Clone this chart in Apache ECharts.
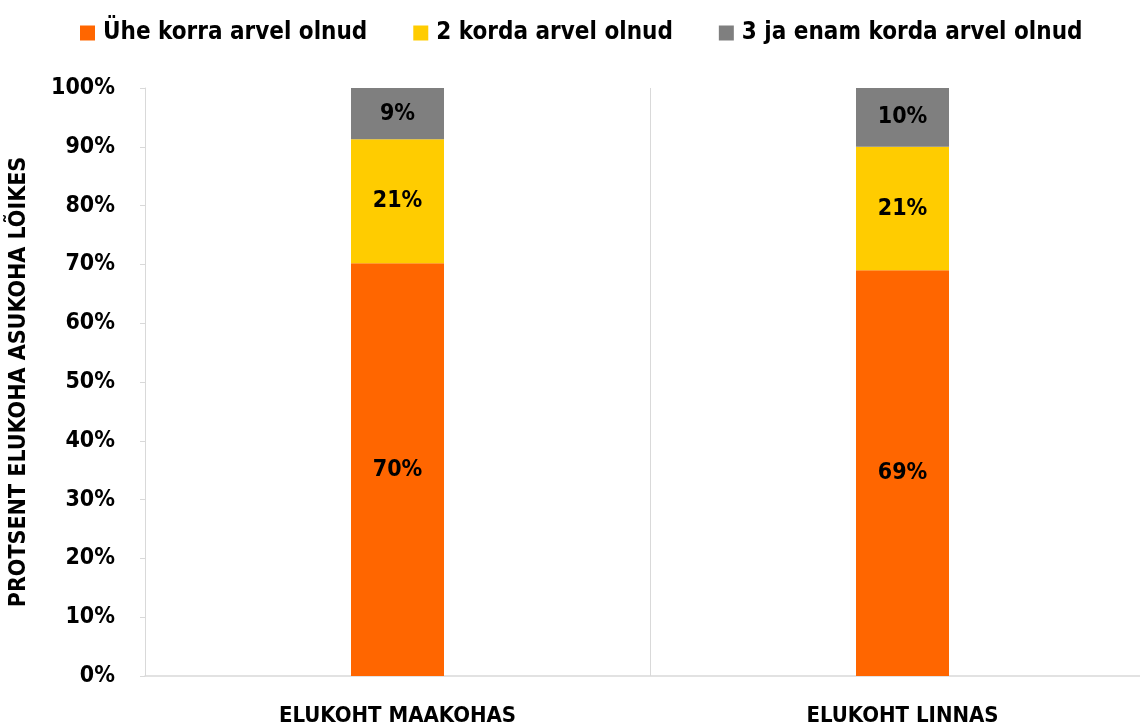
<!DOCTYPE html>
<html>
<head>
<meta charset="utf-8">
<script src="https://cdn.jsdelivr.net/npm/echarts@6/dist/echarts.min.js"></script>
<style>
html,body{margin:0;padding:0;background:#fff;overflow:hidden;}
/* the plot area runs a little past the right edge of the picture */
#chart{width:1155px;height:722px;}
</style>
</head>
<body>
<div id="chart"></div>
<script>
// kategooriad ja osakaalud (%)
const categories = ['ELUKOHT MAAKOHAS', 'ELUKOHT LINNAS'];
const seriesNames = ['Ühe korra arvel olnud', '2 korda arvel olnud', '3 ja enam korda arvel olnud'];
const uksKord = [70.2, 69.0];
const kaksKorda = [21.1, 21.0];
const kolmJaEnam = [8.7, 10.0];
const colors = ['#ff6600', '#ffcc00', '#7f7f7f'];

const font = "'Liberation Sans Narrow', 'DejaVu Sans Condensed', 'Liberation Sans', sans-serif";

const chart = echarts.init(document.getElementById('chart'));

function mkSeries(name, data, color) {
    return {
        name: name,
        type: 'bar',
        stack: 'total',
        barWidth: 93,
        data: data,
        itemStyle: { color: color },
        label: {
            show: true,
            position: 'inside',
            color: '#000',
            fontFamily: font,
            fontWeight: 'bold',
            fontSize: 23,
            formatter: p => Math.round(p.value) + '%'
        }
    };
}

const option = {
    animation: false,
    textStyle: { fontFamily: font },
    legend: {
        top: 16,
        left: 75,
        itemWidth: 15,
        itemHeight: 15,
        itemGap: 46,
        icon: 'rect',
        textStyle: { fontFamily: font, fontWeight: 'bold', fontSize: 24, color: '#000', padding: [0, 0, 0, 3] }
    },
    grid: { left: 145, top: 88, right: 0, bottom: 46, outerBoundsMode: 'none' },
    xAxis: {
        type: 'category',
        data: categories,
        axisLine: { lineStyle: { color: '#d9d9d9', width: 1.5 } },
        axisTick: { show: false },
        splitLine: { show: true, lineStyle: { color: '#d9d9d9' } },
        axisLabel: {
            color: '#000',
            fontFamily: font,
            fontWeight: 'bold',
            fontSize: 22,
            margin: 29
        }
    },
    yAxis: {
        type: 'value',
        min: 0,
        max: 100,
        interval: 10,
        name: 'PROTSENT ELUKOHA ASUKOHA LÕIKES',
        nameLocation: 'middle',
        nameGap: 114,
        nameTextStyle: { color: '#000', fontFamily: font, fontWeight: 'bold', fontSize: 23 },
        axisLine: { show: true, lineStyle: { color: '#d9d9d9' } },
        axisTick: { show: true, length: 5, lineStyle: { color: '#d9d9d9' } },
        splitLine: { show: false },
        axisLabel: {
            color: '#000',
            fontFamily: font,
            fontWeight: 'bold',
            fontSize: 23,
            margin: 30,
            formatter: '{value}%'
        }
    },
    series: [
        mkSeries(seriesNames[0], uksKord, colors[0]),
        mkSeries(seriesNames[1], kaksKorda, colors[1]),
        mkSeries(seriesNames[2], kolmJaEnam, colors[2])
    ]
};

chart.setOption(option);
</script>
</body>
</html>
